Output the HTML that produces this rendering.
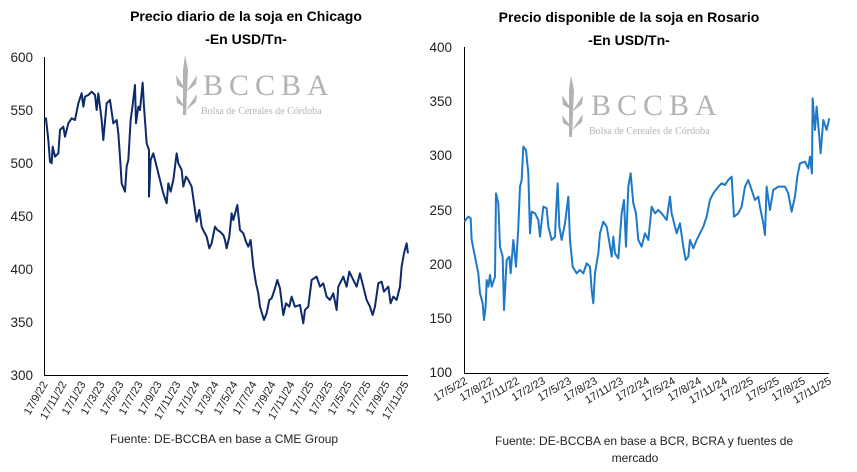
<!DOCTYPE html><html><head><style>
body{margin:0;width:857px;height:467px;background:#fff;font-family:"Liberation Sans",sans-serif;overflow:hidden}
</style></head><body>
<svg width="857" height="467" xmlns="http://www.w3.org/2000/svg" font-family="Liberation Sans, sans-serif">
<g font-weight="bold" font-size="14" text-anchor="middle" fill="#000">
<text x="246" y="21">Precio diario de la soja en Chicago</text>
<text x="246" y="44">-En USD/Tn-</text>
<text x="629" y="22">Precio disponible de la soja en Rosario</text>
<text x="629" y="45">-En USD/Tn-</text>
</g>
<g fill="#b3b3b3" font-family="Liberation Serif, serif">
<text x="203" y="95" font-size="30" letter-spacing="6">BCCBA</text>
<text x="201" y="114" font-size="10">Bolsa de Cereales de Córdoba</text>
<path d="M185 55 L188 70 L186 115 L183 115 L183 70Z M176 75 L186 90 L177 85Z M197 75 L186 92 L196 84Z M176 95 L186 108 L177 103Z M197 94 L186 110 L196 102Z"/>
<text x="591" y="115" font-size="30" letter-spacing="6">BCCBA</text>
<text x="589" y="134" font-size="10">Bolsa de Cereales de Córdoba</text>
<path d="M571 75 L574 90 L572 137 L569 137 L569 90Z M562 95 L572 110 L563 105Z M583 95 L572 112 L582 104Z M562 115 L572 128 L563 123Z M583 114 L572 130 L582 122Z"/>
</g>
<g stroke="#000" stroke-width="1"><line x1="44.5" y1="57" x2="44.5" y2="375"/><line x1="44" y1="375.5" x2="408" y2="375.5"/></g>
<g font-size="13.5" fill="#222" text-anchor="end">
<text x="33" y="62">600</text><text x="33" y="115">550</text><text x="33" y="168">500</text><text x="33" y="221">450</text><text x="33" y="274">400</text><text x="33" y="327">350</text><text x="33" y="380">300</text>
</g>
<g font-size="11" fill="#222" text-anchor="end">
<text transform="translate(48,384) rotate(-60)">17/9/22</text>
<text transform="translate(67,384) rotate(-60)">17/11/22</text>
<text transform="translate(86,384) rotate(-60)">17/1/23</text>
<text transform="translate(105,384) rotate(-60)">17/3/23</text>
<text transform="translate(124,384) rotate(-60)">17/5/23</text>
<text transform="translate(143,384) rotate(-60)">17/7/23</text>
<text transform="translate(162,384) rotate(-60)">17/9/23</text>
<text transform="translate(181,384) rotate(-60)">17/11/23</text>
<text transform="translate(200,384) rotate(-60)">17/1/24</text>
<text transform="translate(219,384) rotate(-60)">17/3/24</text>
<text transform="translate(238,384) rotate(-60)">17/5/24</text>
<text transform="translate(257,384) rotate(-60)">17/7/24</text>
<text transform="translate(276,384) rotate(-60)">17/9/24</text>
<text transform="translate(295,384) rotate(-60)">17/11/24</text>
<text transform="translate(314,384) rotate(-60)">17/1/25</text>
<text transform="translate(333,384) rotate(-60)">17/3/25</text>
<text transform="translate(352,384) rotate(-60)">17/5/25</text>
<text transform="translate(371,384) rotate(-60)">17/7/25</text>
<text transform="translate(390,384) rotate(-60)">17/9/25</text>
<text transform="translate(409,384) rotate(-60)">17/11/25</text>
</g>
<g transform="translate(0,40) scale(0.3333)">
<polyline fill="none" stroke="#0d2a6b" stroke-width="6" stroke-linejoin="round" points="133,240 138,235 145,300 150,365 155,370 158,320 165,350 175,340 180,270 190,260 195,290 205,250 215,235 225,240 235,190 245,160 250,200 255,170 265,165 275,155 285,165 290,210 295,160 305,240 310,300 320,190 330,180 340,250 350,240 355,280 360,350 365,430 375,455 380,380 385,360 392,240 398,195 405,135 408,250 415,200 420,210 428,128 432,200 440,310 447,330 447,470 452,360 460,340 470,380 480,420 490,460 500,490 505,430 512,455 520,420 530,340 535,370 545,390 550,440 558,410 565,420 575,440 585,510 590,545 598,510 605,560 612,575 620,590 628,625 635,610 645,560 652,570 660,575 670,585 675,600 680,625 688,590 695,520 700,540 712,495 720,570 730,580 738,605 745,620 752,600 760,680 768,730 775,760 780,800 792,840 800,820 808,780 815,775 825,745 832,720 840,745 850,825 858,790 868,800 875,770 885,800 900,795 910,850 915,810 925,800 935,720 950,710 960,740 970,730 980,770 990,780 1000,760 1010,810 1015,740 1030,710 1040,740 1048,695 1060,720 1070,740 1080,700 1090,740 1100,780 1110,800 1118,825 1125,800 1135,730 1145,725 1152,755 1165,740 1172,790 1180,770 1190,780 1200,740 1205,680 1212,640 1220,610 1224,640"/>
</g>
<g stroke="#000" stroke-width="1"><line x1="464.5" y1="47" x2="464.5" y2="373"/><line x1="464" y1="373.5" x2="829" y2="373.5"/></g>
<g font-size="13.5" fill="#222" text-anchor="end">
<text x="452" y="52">400</text><text x="452" y="106">350</text><text x="452" y="160">300</text><text x="452" y="215">250</text><text x="452" y="269">200</text><text x="452" y="323">150</text><text x="452" y="377">100</text>
</g>
<g font-size="11" fill="#222" text-anchor="end">
<text transform="translate(468,383) rotate(-30)">17/5/22</text>
<text transform="translate(494,383) rotate(-30)">17/8/22</text>
<text transform="translate(520,383) rotate(-30)">17/11/22</text>
<text transform="translate(546,383) rotate(-30)">17/2/23</text>
<text transform="translate(572,383) rotate(-30)">17/5/23</text>
<text transform="translate(598,383) rotate(-30)">17/8/23</text>
<text transform="translate(624,383) rotate(-30)">17/11/23</text>
<text transform="translate(650,383) rotate(-30)">17/2/24</text>
<text transform="translate(676,383) rotate(-30)">17/5/24</text>
<text transform="translate(702,383) rotate(-30)">17/8/24</text>
<text transform="translate(728,383) rotate(-30)">17/11/24</text>
<text transform="translate(754,383) rotate(-30)">17/2/25</text>
<text transform="translate(780,383) rotate(-30)">17/5/25</text>
<text transform="translate(806,383) rotate(-30)">17/8/25</text>
<text transform="translate(832,383) rotate(-30)">17/11/25</text>
</g>
<g transform="translate(420,40) scale(0.3333)">
<polyline fill="none" stroke="#1f78c8" stroke-width="6" stroke-linejoin="round" points="133,545 145,530 152,535 155,600 165,650 175,700 180,760 188,790 192,840 197,800 200,720 205,740 210,705 215,740 225,710 228,460 235,490 240,620 248,650 252,810 260,660 268,650 272,700 280,600 288,680 295,560 300,440 305,420 310,320 318,330 325,400 330,580 335,515 345,520 355,540 360,590 370,500 380,505 385,560 395,600 405,590 408,520 413,430 418,560 425,600 435,550 445,470 450,600 458,680 470,700 480,690 490,700 500,670 510,680 515,750 520,790 525,700 535,640 540,580 550,545 560,560 567,600 575,650 580,590 585,640 595,655 605,520 612,480 618,620 625,440 632,400 640,490 648,520 655,600 665,620 675,580 685,600 695,500 705,520 715,510 725,520 740,540 750,470 755,520 770,580 780,550 790,620 797,660 805,650 810,600 820,625 830,600 840,580 850,560 860,530 870,480 880,460 895,440 905,430 915,435 925,420 935,410 942,530 955,520 965,500 975,440 985,420 995,450 1005,480 1015,470 1020,500 1030,550 1035,585 1040,440 1050,510 1060,450 1075,440 1085,440 1095,440 1105,460 1115,515 1125,470 1132,410 1140,370 1155,365 1165,385 1170,350 1176,400 1178,175 1185,270 1190,200 1198,290 1202,340 1210,240 1220,270 1228,235"/>
</g>
<g font-size="12" fill="#222">
<text x="110" y="443">Fuente: DE-BCCBA en base a CME Group</text>
<text x="495" y="445">Fuente: DE-BCCBA en base a BCR, BCRA y fuentes de</text>
<text x="635" y="462" text-anchor="middle">mercado</text>
</g>
</svg>
</body></html>
